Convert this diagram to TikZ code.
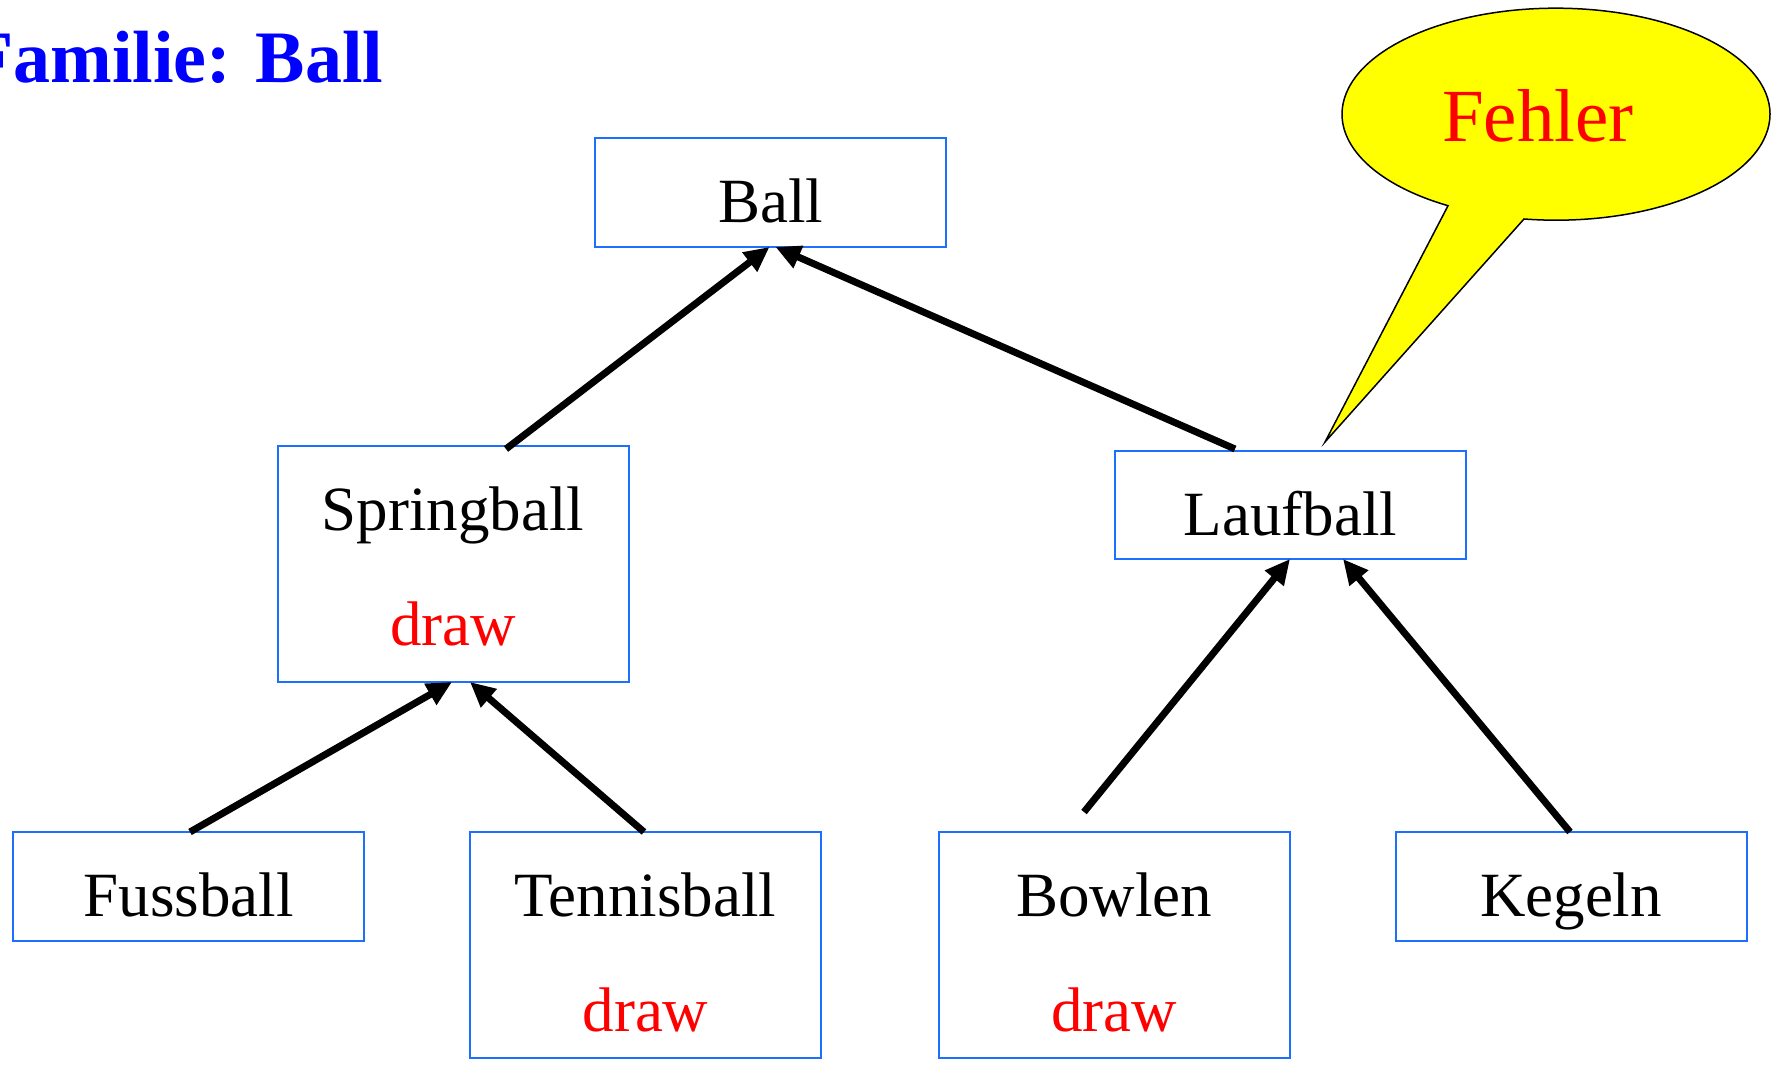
\documentclass[tikz,border=0pt]{standalone}
\usepackage{fontspec}
\setmainfont{Liberation Serif}
\usetikzlibrary{arrows.meta}
\definecolor{boxblue}{RGB}{30,110,255}
\definecolor{callyellow}{RGB}{255,255,0}
\begin{document}
\begin{tikzpicture}[x=1pt,y=1pt,
  box/.style={draw=boxblue,line width=2pt,rectangle,inner sep=0pt,outer sep=0pt,minimum width=351pt},
  lbl/.style={anchor=base,inner sep=0pt,font=\fontsize{63}{75}\selectfont},
  red lbl/.style={lbl,text=red},
  arr/.style={line width=7pt,-{Triangle[length=25pt,width=23pt]}}]
\useasboundingbox (0,0) rectangle (1775,1065);
% title
\node[anchor=base west,inner sep=0pt,text={rgb,255:red,0;green,0;blue,255},font=\fontsize{74}{90}\selectfont\bfseries] (title) at (-32,982) {Familie: Ball};
% boxes
\node[box,minimum height=109pt] (ball) at (770.5,872.5) {};
\node[box,minimum height=236pt] (spring) at (453,501) {};
\node[box,minimum height=108pt] (lauf) at (1290.5,560) {};
\node[box,minimum height=109pt] (fuss) at (188.5,178.5) {};
\node[box,minimum height=226pt] (tennis) at (645.5,120) {};
\node[box,minimum height=226pt] (bowlen) at (1114,120) {};
\node[box,minimum height=109pt] (kegeln) at (1571,178.5) {};
% texts
\node[lbl] (tball) at (770.5,842) {Ball};
\node[lbl] (tspring) at (453,534) {Springball};
\node[red lbl] (dspring) at (453,419) {draw};
\node[lbl] (tlauf) at (1290.5,529) {Laufball};
\node[lbl] (tfuss) at (188.5,148) {Fussball};
\node[lbl] (ttennis) at (645.5,148) {Tennisball};
\node[red lbl] (dtennis) at (645.5,33) {draw};
\node[lbl] (tbowlen) at (1114,148) {Bowlen};
\node[red lbl] (dbowlen) at (1114,33) {draw};
\node[lbl] (tkegeln) at (1571,148) {Kegeln};
% arrows
\draw[arr] ([xshift=53pt,yshift=-3pt]spring.north) -- ([xshift=-1pt]ball.south);
\draw[arr] ([xshift=-55.5pt,yshift=2pt]lauf.north) -- ([xshift=5pt]ball.south);
\draw[arr] ([xshift=1.5pt]fuss.north) -- ([xshift=-1pt]spring.south);
\draw[arr] ([xshift=-1.5pt]tennis.north) -- ([xshift=17pt]spring.south);
\draw[arr] ([xshift=-30pt,yshift=20pt]bowlen.north) -- ([xshift=-0.5pt]lauf.south);
\draw[arr] ([xshift=-1pt]kegeln.north) -- ([xshift=52.5pt]lauf.south);
% callout
\coordinate (ctip) at (1325,623);
\draw[fill=callyellow,line width=1.5pt,line join=miter] (ctip) -- (1524,846)
  arc[start angle=261.4,end angle=599.7,x radius=214pt,y radius=106pt] -- cycle;
\node[anchor=base,inner sep=0pt,text=red,font=\fontsize{75}{90}\selectfont] (fehler) at (1538,923) {Fehler};
\end{tikzpicture}
\end{document}
